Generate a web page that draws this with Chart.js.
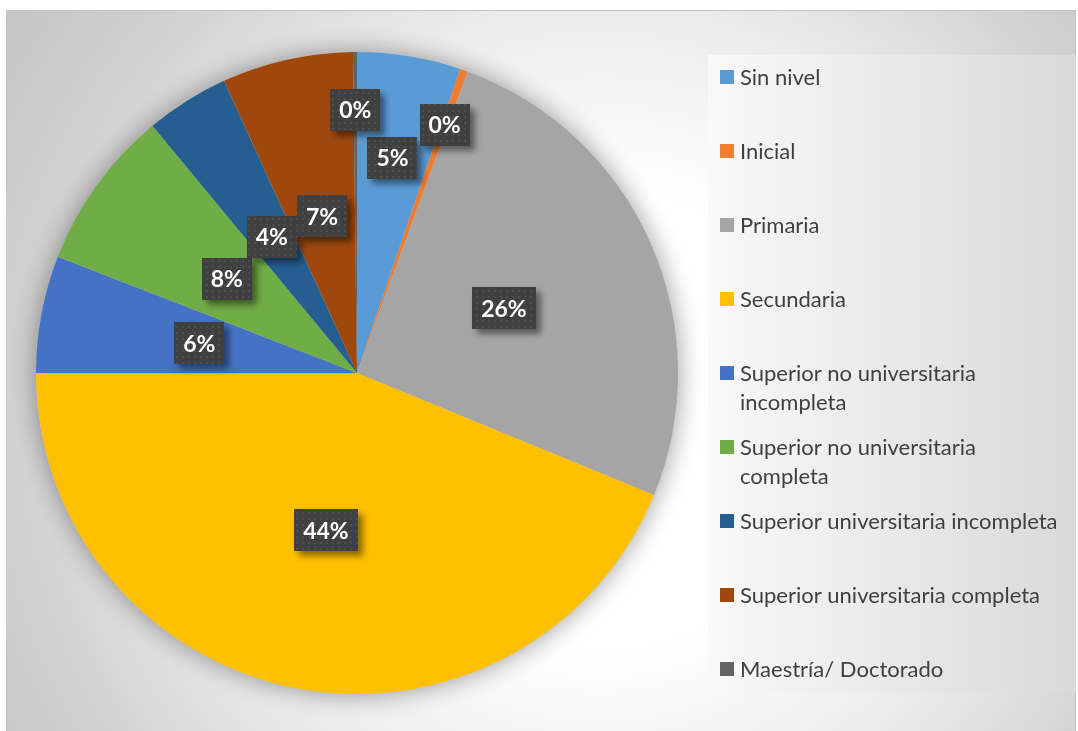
<!DOCTYPE html>
<html>
<head>
<meta charset="utf-8">
<script src="https://cdn.jsdelivr.net/npm/chart.js@4.4.1/dist/chart.umd.min.js"></script>
<style>
  html, body { margin: 0; padding: 0; background: #fff; }
  canvas { display: block; }
</style>
</head>
<body>
<canvas id="pie-chart" width="1078" height="731"></canvas>
<script>
/* datos del grafico */
const categorias = [
    "Sin nivel",
    "Inicial",
    "Primaria",
    "Secundaria",
    ["Superior no universitaria", "incompleta"],
    ["Superior no universitaria", "completa"],
    "Superior universitaria incompleta",
    "Superior universitaria completa",
    "Maestría/ Doctorado"
]
const porcentajes = [5.2, 0.4, 25.6, 43.8, 5.9, 8.1, 4.2, 6.6, 0.2]
const colores = ["#5B9BD5", "#ED7D31", "#A5A5A5", "#FFC000", "#4472C4", "#70AD47", "#255E91", "#9E480E", "#636363"]

/* distancia de cada etiqueta al centro (fraccion del radio) */
const distEtiqueta = [0.68, 0.82, 0.5, 0.5, 0.5, 0.5, 0.5, 0.5, 0.82]

/* fondo del area del grafico y de la leyenda */
const fondoPlugin = {
    id: "fondo",
    beforeDraw(chart) {
        const ctx = chart.ctx
        ctx.save()
        ctx.fillStyle = "#ffffff"
        ctx.fillRect(0, 0, chart.width, chart.height)

        const g = ctx.createRadialGradient(600, 420, 0, 600, 420, 760)
        g.addColorStop(0, "#ffffff")
        g.addColorStop(0.3, "#ffffff")
        g.addColorStop(0.54, "#ececec")
        g.addColorStop(0.78, "#d0d0d0")
        g.addColorStop(1, "#c2c2c2")
        ctx.fillStyle = g
        ctx.fillRect(6, 10, 1070, 730)
        ctx.strokeStyle = "#c4c4c4"
        ctx.lineWidth = 1
        ctx.strokeRect(6.5, 10.5, 1069, 730)

        const gl = ctx.createLinearGradient(708, 0, 1076, 0)
        gl.addColorStop(0, "#f9f9f9")
        gl.addColorStop(1, "#d9d9d9")
        ctx.fillStyle = gl
        ctx.fillRect(708, 55, 368, 638)
        ctx.restore()
    }
}

/* sombra suave alrededor de la torta */
const sombraPlugin = {
    id: "sombra",
    beforeDatasetsDraw(chart) {
        const arc = chart.getDatasetMeta(0).data[0]
        if (!arc) return
        const ctx = chart.ctx
        ctx.save()
        ctx.shadowColor = "rgba(0,0,0,0.4)"
        ctx.shadowBlur = 26
        ctx.fillStyle = "#cccccc"
        ctx.beginPath()
        ctx.arc(arc.x, arc.y, arc.outerRadius, 0, Math.PI * 2)
        ctx.fill()
        ctx.restore()
    }
}

/* etiquetas de porcentaje con caja oscura */
let patron = null
function getPatron(ctx) {
    if (patron) return patron
    const c = document.createElement("canvas")
    c.width = 6
    c.height = 6
    const p = c.getContext("2d")
    p.fillStyle = "#404040"
    p.fillRect(0, 0, 6, 6)
    p.fillStyle = "#4e4e4e"
    p.fillRect(2, 2, 2, 2)
    patron = ctx.createPattern(c, "repeat")
    return patron
}

const etiquetasPlugin = {
    id: "etiquetas",
    afterDatasetsDraw(chart) {
        const ctx = chart.ctx
        const meta = chart.getDatasetMeta(0)
        const valores = chart.data.datasets[0].data
        const total = valores.reduce((a, b) => a + b, 0)
        ctx.save()
        ctx.font = "bold 23px Lato"
        ctx.textAlign = "center"
        ctx.textBaseline = "middle"
        meta.data.forEach((arc, i) => {
            const texto = Math.round(valores[i] / total * 100) + "%"
            const ang = (arc.startAngle + arc.endAngle) / 2
            const r = arc.outerRadius * distEtiqueta[i]
            const cx = arc.x + Math.cos(ang) * r
            const cy = arc.y + Math.sin(ang) * r
            const w = ctx.measureText(texto).width + 18
            const h = 42
            ctx.save()
            ctx.shadowColor = "rgba(0,0,0,0.45)"
            ctx.shadowBlur = 6
            ctx.shadowOffsetX = 5
            ctx.shadowOffsetY = 5
            ctx.fillStyle = getPatron(ctx)
            ctx.fillRect(Math.round(cx - w / 2), Math.round(cy - h / 2), Math.round(w), h)
            ctx.restore()
            ctx.fillStyle = "#ffffff"
            ctx.fillText(texto, cx, cy + 1)
        })
        ctx.restore()
    }
}

/* leyenda a la derecha */
const leyendaPlugin = {
    id: "leyenda",
    afterDraw(chart) {
        const ctx = chart.ctx
        ctx.save()
        ctx.font = "22px Lato"
        ctx.textBaseline = "middle"
        chart.data.labels.forEach((lab, i) => {
            const y = 77 + i * 74
            ctx.fillStyle = chart.data.datasets[0].backgroundColor[i]
            ctx.fillRect(720, y - 7, 14, 14)
            ctx.fillStyle = "#404040"
            const lineas = Array.isArray(lab) ? lab : [lab]
            lineas.forEach((t, j) => ctx.fillText(t, 740, y + 1 + j * 29))
        })
        ctx.restore()
    }
}

const contenedorPie = document.querySelector("#pie-chart").getContext("2d")

const pieChart = new Chart(contenedorPie, {
    type: "pie",
    data: {
        labels: categorias,
        datasets: [
            {
                data: porcentajes,
                backgroundColor: colores,
                borderWidth: 0,
            },
        ]
    },
    options: {
        responsive: false,
        animation: false,
        layout: {
            padding: { left: 36, right: 400, top: 52, bottom: 37 }
        },
        plugins: {
            legend: { display: false },
            tooltip: { enabled: false },
        }
    },
    plugins: [fondoPlugin, sombraPlugin, etiquetasPlugin, leyendaPlugin]
})
</script>
</body>
</html>
